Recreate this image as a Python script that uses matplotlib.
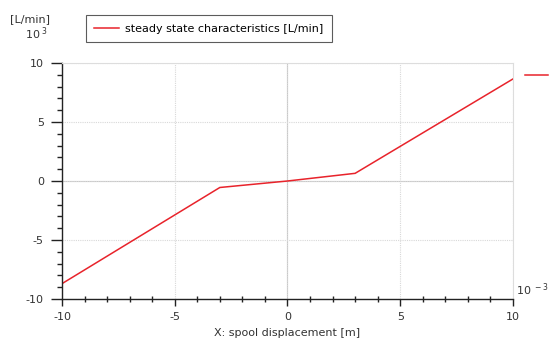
import matplotlib.pyplot as plt
from matplotlib.ticker import MultipleLocator, AutoMinorLocator
from matplotlib.lines import Line2D

# spool displacement [1e-3 m] vs flow [1e3 L/min]
x_disp = [-10, -3, 0, 3, 10]
flow = [-8.7, -0.55, 0.0, 0.65, 8.65]
series_label = "steady state characteristics [L/min]"
x_label = "X: spool displacement [m]"
y_unit = "[L/min]"

plt.rcParams['font.family'] = ['DejaVu Sans']
plt.rcParams['font.size'] = 8
plt.rcParams['axes.unicode_minus'] = False

fig = plt.figure(figsize=(5.5, 3.43), dpi=100)
ax = fig.add_axes([0.1127, 0.1283, 0.82, 0.688])

ax.plot(x_disp, flow, color='#e8232b', linewidth=1.1, solid_joinstyle='miter')

ax.set_xlim(-10, 10)
ax.set_ylim(-10, 10)
ax.xaxis.set_major_locator(MultipleLocator(5))
ax.yaxis.set_major_locator(MultipleLocator(5))
ax.xaxis.set_minor_locator(AutoMinorLocator(5))
ax.yaxis.set_minor_locator(AutoMinorLocator(5))
ax.tick_params(which='both', colors='#222222', width=1, labelsize=8, labelcolor='#333333')
ax.tick_params(axis='y', which='major', direction='out', length=8, pad=5)
ax.tick_params(axis='y', which='minor', direction='out', length=3.5)
ax.tick_params(axis='x', which='major', direction='out', length=5, pad=4.5)
ax.tick_params(axis='x', which='minor', direction='inout', length=4)

ax.grid(True, which='major', color='#d8d8d8', linestyle=(0, (1, 1)), linewidth=0.8)
ax.axhline(0, color='#c8c8c8', linewidth=0.8, zorder=0.5)
ax.axvline(0, color='#c8c8c8', linewidth=0.8, zorder=0.5)

for side in ('top', 'right'):
    ax.spines[side].set_color('#dddddd')
    ax.spines[side].set_linewidth(0.8)
for side in ('left', 'bottom'):
    ax.spines[side].set_color('#222222')
    ax.spines[side].set_linewidth(1.0)

ax.set_xlabel(x_label, fontsize=8, color='#333333', labelpad=4.5)

# unit and scale annotations
fig.text(10 / 550, 1 - 19 / 343, y_unit, fontsize=8, color='#333333', va='center')
fig.text(25 / 550, 1 - 34 / 343, r'10$^{\ 3}$', fontsize=8, color='#333333', va='center')
fig.text(516 / 550, 1 - 290 / 343, r'10$^{\ -3}$', fontsize=8, color='#333333', va='center')

# legend box above the plot
handle = Line2D([], [], color='#e8232b', linewidth=1.1)
leg = fig.legend([handle], [series_label], loc='center left',
                 bbox_to_anchor=(86 / 550, 1 - 28.5 / 343), frameon=True,
                 fancybox=False, edgecolor='#333333', fontsize=8,
                 handlelength=2.2, borderpad=0.75, handletextpad=0.6,
                 borderaxespad=0)
leg.get_frame().set_linewidth(0.8)

# end-value marker on the right
fig.add_artist(Line2D([525 / 550, 548 / 550], [1 - 75 / 343, 1 - 75 / 343],
                      color='#e8232b', linewidth=1.1))

fig.savefig('out.png', dpi=100)
